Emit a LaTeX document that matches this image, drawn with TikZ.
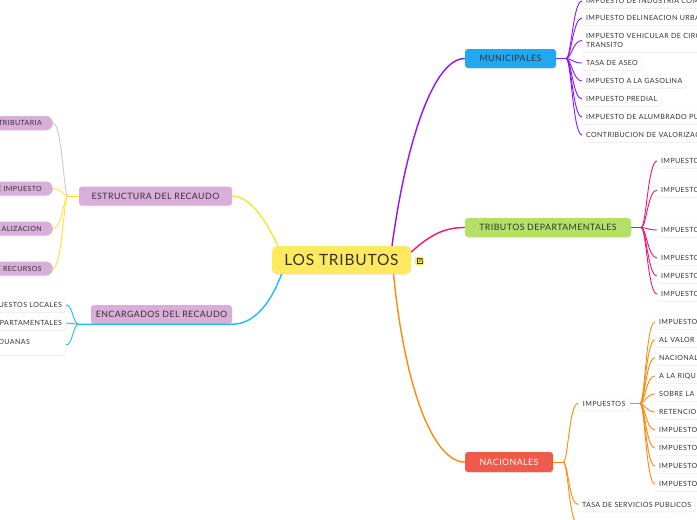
\documentclass[tikz,border=0pt]{standalone}
\usepackage{fontspec}
\setmainfont{Lato}
\newfontfamily\tf[LetterSpace=5]{Lato}
\usetikzlibrary{shadows,calc}
\definecolor{txt}{HTML}{333333}
\definecolor{cyel}{HTML}{FFE95E}
\definecolor{lav}{HTML}{D9AEDA}
\definecolor{mblue}{HTML}{22A8F0}
\definecolor{dgreen}{HTML}{B5E068}
\definecolor{nred}{HTML}{EF5A4B}
\definecolor{pcol}{HTML}{9013FE}
\definecolor{pkcol}{HTML}{F0146E}
\definecolor{ocol}{HTML}{FF8A10}
\definecolor{ycol}{HTML}{FFE135}
\definecolor{bcol}{HTML}{20BDF5}
\definecolor{gcol}{HTML}{CCCCCC}
\begin{document}
\begin{tikzpicture}[x=1pt,y=-1pt,
  every node/.style={inner sep=0pt, text=txt},
  sh/.style={drop shadow={shadow xshift=0.2pt, shadow yshift=-0.9pt, opacity=0.13}},
  root/.style={fill=cyel, rounded corners=5pt, minimum width=139pt, minimum height=28pt,
    font=\tf\fontsize{15.5}{19}\selectfont, sh},
  branch/.style={rounded corners=3pt, minimum height=19pt, font=\tf\fontsize{8.8}{11}\selectfont, sh},
  leaf/.style={fill=white, draw=black!6, line width=0.3pt, rounded corners=2.5pt, minimum height=14pt,
    inner xsep=4pt, font=\tf\fontsize{7.1}{9}\selectfont, sh},
  cutr/.style={text width=150pt, align=left},
  pill/.style={fill=lav, rounded corners=7pt, minimum height=14pt, inner xsep=11pt, text width=110pt,
    align=right, anchor=east, font=\tf\fontsize{7.1}{9}\selectfont, sh},
  mainln/.style={line width=1.4pt},
  subln/.style={line width=0.9pt},
]
\useasboundingbox (0,0) rectangle (697,520);
\fill[white] (0,0) rectangle (697,520);
\clip (0,0) rectangle (697,520);

% ---------- nodes ----------
\node[root] (los) at (341.5,260) {LOS TRIBUTOS};
\node[fill=cyel, minimum size=9pt, rounded corners=1.5pt] (ico) at (419.5,261) {};
\draw[txt, line width=0.5pt, line cap=round, line join=round]
  ($(ico.center)+(0.3,-2.3)$) -- ($(ico.center)+(-2.3,-2.3)$) -- ($(ico.center)+(-2.3,2.3)$)
  -- ($(ico.center)+(2.3,2.3)$) -- ($(ico.center)+(2.3,-0.3)$);
\draw[txt, line width=0.5pt, line cap=round, line join=round]
  ($(ico.center)+(-0.6,0.6)$) -- ($(ico.center)+(2.6,-2.6)$)
  ($(ico.center)+(0.9,-2.6)$) -- ($(ico.center)+(2.6,-2.6)$) -- ($(ico.center)+(2.6,-0.9)$);

\node[branch, fill=lav, minimum width=153pt] (est) at (155.5,196) {ESTRUCTURA DEL RECAUDO};
\node[branch, fill=lav, minimum width=141pt] (enc) at (161.5,314.5) {ENCARGADOS DEL RECAUDO};
\node[branch, fill=mblue, minimum width=91pt] (mun) at (510.5,58.5) {MUNICIPALES};
\node[branch, fill=dgreen, minimum width=166pt] (dep) at (548,227.5) {TRIBUTOS DEPARTAMENTALES};
\node[branch, fill=nred, text=white, minimum width=88pt, minimum height=20pt] (nac) at (509,462) {NACIONALES};

% left: estructura
\node[pill] (e1) at (53,123) {TRIBUTARIA};
\node[pill] (e2) at (53,188.5) {E IMPUESTO};
\node[pill] (e3) at (53,228.5) {ALIZACION};
\node[pill] (e4) at (53,268.5) {E RECURSOS};

% left: encargados
\node[leaf, anchor=east, text width=110pt, align=right] (c1) at (66,305) {UESTOS LOCALES};
\node[leaf, anchor=east, text width=110pt, align=right] (c2) at (66,323) {PARTAMENTALES};
\node[leaf, anchor=east, text width=110pt, align=right, minimum height=20pt, text depth=7pt] (c3) at (66,345) {DUANAS\hspace*{32pt}};

% municipales
\node[leaf, cutr, anchor=west] (m1) at (582,1) {IMPUESTO DE INDUSTRIA COM};
\node[leaf, cutr, anchor=west] (m2) at (582,18) {IMPUESTO DELINEACION URBA};
\node[leaf, cutr, anchor=west, minimum height=23pt] (m3) at (582,40.5) {IMPUESTO VEHICULAR DE CIRC\\TRANSITO};
\node[leaf, anchor=west] (m4) at (582,63) {TASA DE ASEO};
\node[leaf, anchor=west] (m5) at (582,81) {IMPUESTO A LA GASOLINA};
\node[leaf, anchor=west] (m6) at (582,99) {IMPUESTO PREDIAL};
\node[leaf, cutr, anchor=west] (m7) at (582,117) {IMPUESTO DE ALUMBRADO PUE};
\node[leaf, cutr, anchor=west] (m8) at (582,135) {CONTRIBUCION DE VALORIZAC};

% departamentales
\foreach \i/\yy in {1/161,2/190,3/230,4/258,5/276,6/294}
  \node[leaf, cutr, anchor=west] (d\i) at (657,\yy) {IMPUESTO};

% nacionales
\node[leaf, anchor=west, minimum width=52pt] (imp) at (578,403.5) {IMPUESTOS};
\node[leaf, anchor=west] (tsp) at (578,504.5) {TASA DE SERVICIOS PUBLICOS};
\node[leaf, anchor=west, minimum width=89pt] (n0) at (578,524) {};
\foreach \i/\yy/\tt in {1/322/IMPUESTO,2/340/AL VALOR,3/358/NACIONAL,4/376/A LA RIQU,5/394/SOBRE LA,
    6/412/RETENCIO,7/430/IMPUESTO,8/448/IMPUESTO,9/466/IMPUESTO,10/484/IMPUESTO}
  \node[leaf, cutr, anchor=west] (n\i) at (655,\yy) {\tt};

% ---------- hubs ----------
\coordinate (hS) at ([xshift=-11pt]est.west);
\coordinate (hE) at ([xshift=-12pt]enc.south west);
\coordinate (hM) at ([xshift=10pt]mun.east);
\coordinate (hD) at ([xshift=10pt]dep.east);
\coordinate (hN) at ([xshift=10pt]nac.east);
\coordinate (hI) at ([xshift=62pt]imp.west);

% ---------- main connectors ----------
\draw[mainln, ycol] ([xshift=-63.5pt]los.north) .. controls +(-12,-25) and +(18,0) .. (est.east);
\draw[mainln, bcol] ([xshift=-60pt]los.south) .. controls +(-15,40) and +(15,0) .. (enc.south east)
  -- (enc.south west) -- (hE);
\draw[mainln, pcol] ([xshift=50.5pt]los.north) .. controls +(15,-110) and +(-30,0) .. (mun.west);
\draw[mainln, pkcol] ([yshift=8pt]los.east) .. controls +(18,-16) and +(-22,0) .. (dep.west);
\draw[mainln, ocol] ([xshift=52pt]los.south) .. controls +(12,120) and +(-30,0) .. (nac.west);

% ---------- sub connectors ----------
\draw[subln, ycol] (est.west) -- (hS);
\draw[subln, gcol] (hS) .. controls +(-4,0) and +(9,0) .. (e1.east);
\foreach \n in {e2,e3,e4} \draw[subln, ycol] (hS) .. controls +(-4,0) and +(9,0) .. (\n.east);

\foreach \n in {c1,c2,c3} \draw[subln, bcol] (hE) .. controls +(-6,0) and +(7,0) .. (\n.east);

\draw[subln, pcol] (mun.east) -- (hM);
\foreach \n in {m1,m2,m3,m4,m5,m6,m7,m8} \draw[subln, pcol] (hM) .. controls +(5,0) and +(-9,0) .. (\n.west);

\draw[subln, pkcol] (dep.east) -- (hD);
\foreach \n in {d1,d2,d3,d4,d5,d6} \draw[subln, pkcol] (hD) .. controls +(5,0) and +(-9,0) .. (\n.west);

\draw[subln, ocol] (nac.east) -- (hN);
\foreach \n in {imp,tsp,n0} \draw[subln, ocol] (hN) .. controls +(5,0) and +(-9,0) .. (\n.west);
\draw[subln, ocol] (imp.east) -- (hI);
\foreach \n in {n1,n2,n3,n4,n5,n6,n7,n8,n9,n10} \draw[subln, ocol] (hI) .. controls +(5,0) and +(-9,0) .. (\n.west);
\end{tikzpicture}
\end{document}
